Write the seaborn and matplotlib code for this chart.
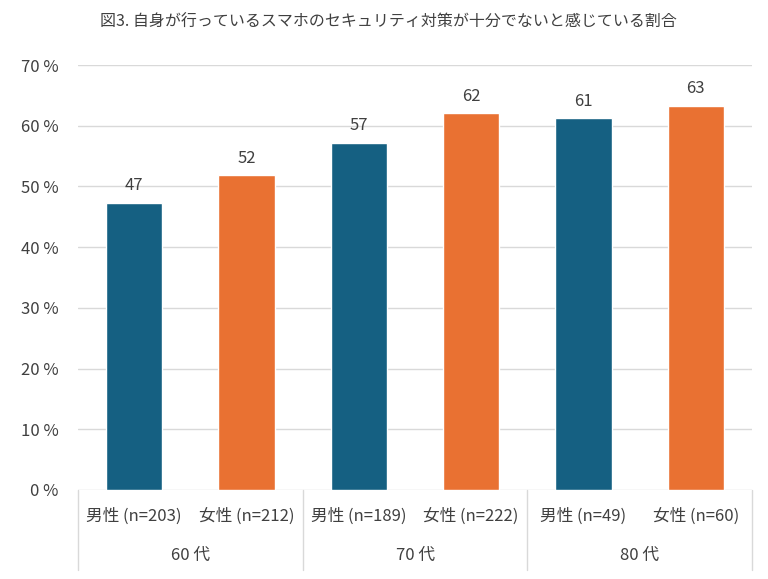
import matplotlib
matplotlib.use("Agg")
import matplotlib.pyplot as plt
import matplotlib.transforms as mtransforms
import seaborn as sns
import pandas as pd

# ---- data ----
title = "図3. 自身が行っているスマホのセキュリティ対策が十分でないと感じている割合"
bar_labels = ["男性 (n=203)", "女性 (n=212)", "男性 (n=189)", "女性 (n=222)", "男性 (n=49)", "女性 (n=60)"]
genders = ["男性", "女性", "男性", "女性", "男性", "女性"]
values = [47.3, 51.9, 57.2, 62.1, 61.2, 63.3]
age_groups = ["60 代", "70 代", "80 代"]
yticks = [0, 10, 20, 30, 40, 50, 60, 70]
ytick_labels = [f"{v} %" for v in yticks]

BLUE = "#156082"
ORANGE = "#E97132"
TEXT = "#404040"
GRID = "#D9D9D9"

sns.set_theme(style="white")
plt.rcParams["font.family"] = ["Noto Sans CJK JP", "DejaVu Sans"]

df = pd.DataFrame({"label": bar_labels, "gender": genders, "value": values})

fig = plt.figure(figsize=(7.68, 5.79), dpi=100)
ax = fig.add_axes([78 / 768, 1 - 490 / 579, (752 - 78) / 768, (490 - 65) / 579])

sns.barplot(data=df, x="label", y="value", hue="gender", order=bar_labels,
            hue_order=["男性", "女性"], palette=[BLUE, ORANGE], dodge=False,
            width=0.5, ax=ax, legend=False, saturation=1)

for c in ax.containers:
    ax.bar_label(c, fmt="%.0f", padding=6, fontsize=12, color=TEXT)

ax.set_xlim(-0.5, len(bar_labels) - 0.5)
ax.set_ylim(0, 70)
ax.set_yticks(yticks)
ax.set_yticklabels(ytick_labels, fontsize=12, color=TEXT)
ax.yaxis.grid(True, color=GRID, linewidth=1)
ax.set_axisbelow(True)
ax.tick_params(axis="y", length=0, pad=14)
ax.tick_params(axis="x", length=0, pad=13, labelsize=12, labelcolor=TEXT)
ax.set_xlabel("")
ax.set_ylabel("")
for s in ax.spines.values():
    s.set_visible(False)

trans = mtransforms.blended_transform_factory(ax.transData, ax.transAxes)
axis_h_px = 490 - 65
for xsep in [-0.5, 1.5, 3.5, 5.5]:
    ax.plot([xsep, xsep], [0, -(570 - 490) / axis_h_px], transform=trans,
            color=GRID, linewidth=1, clip_on=False)
for i, g in enumerate(age_groups):
    ax.text(2 * i + 0.5, -(555 - 490) / axis_h_px, g, transform=trans,
            ha="center", va="center", fontsize=12, color=TEXT)

fig.text(388 / 768, 1 - 22 / 579, title, ha="center", va="center",
         fontsize=11.5, color=TEXT)

fig.savefig("out.png", dpi=100, facecolor="white")
